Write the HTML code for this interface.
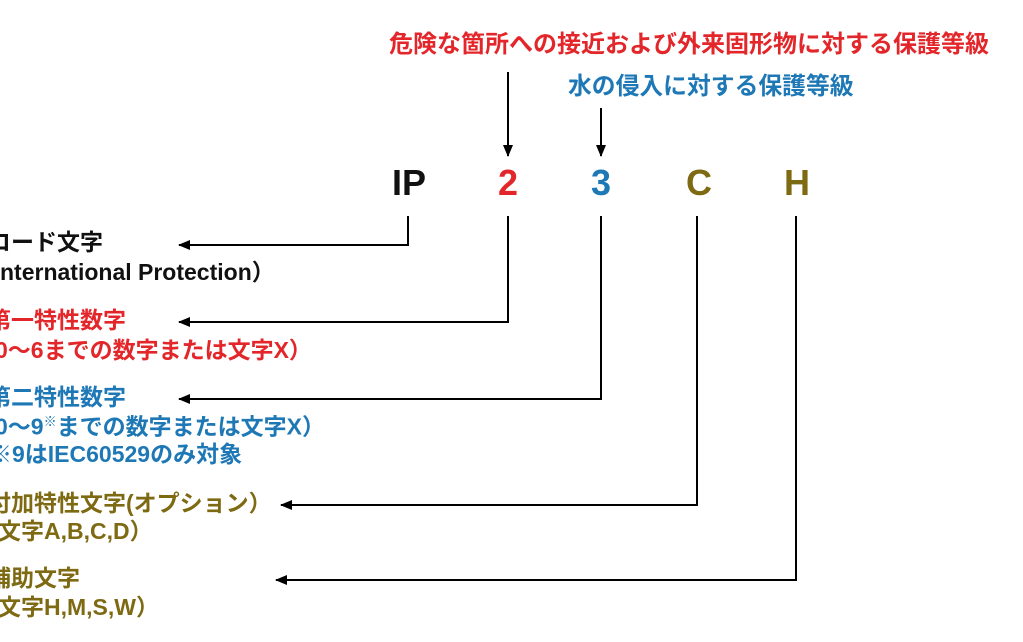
<!DOCTYPE html>
<html><head><meta charset="utf-8"><style>
html,body{margin:0;padding:0;background:#fff;}
body{width:1023px;height:642px;position:relative;overflow:hidden;font-family:"Liberation Sans","Noto Sans CJK JP",sans-serif;}
.t{position:absolute;white-space:nowrap;font-weight:bold;font-size:23px;line-height:1;}
.k{color:#111}.r{color:#e3262a}.b{color:#1e78b6}.o{color:#7e6a12}
.big{position:absolute;font-family:"Liberation Sans Narrow","Liberation Sans",sans-serif;font-size:36px;font-weight:bold;line-height:1;top:165px;}
svg{position:absolute;left:0;top:0}
</style></head><body>
<svg width="1023" height="642">
<defs><marker id="a" markerWidth="12" markerHeight="10" refX="11" refY="5" orient="auto" markerUnits="userSpaceOnUse"><path d="M0,0 L12,5 L0,10 z" fill="#000"/></marker></defs>
<g stroke="#000" stroke-width="2" fill="none">
<line x1="508" y1="72" x2="508" y2="156" marker-end="url(#a)"/>
<line x1="601" y1="108" x2="601" y2="156" marker-end="url(#a)"/>
<polyline points="408,216 408,245 179,245" marker-end="url(#a)"/>
<polyline points="508,216 508,322 179,322" marker-end="url(#a)"/>
<polyline points="601,216 601,399 179,399" marker-end="url(#a)"/>
<polyline points="697,216 697,505 281,505" marker-end="url(#a)"/>
<polyline points="796,216 796,580 276,580" marker-end="url(#a)"/>
</g></svg>
<div class="t r" style="left:389px;top:33px;font-size:24px">危険な箇所への接近および外来固形物に対する保護等級</div>
<div class="t b" style="left:568px;top:75px;font-size:23.8px">水の侵入に対する保護等級</div>
<div class="big k" style="left:392px">IP</div>
<div class="big r" style="left:498px">2</div>
<div class="big b" style="left:591px">3</div>
<div class="big o" style="left:686px">C</div>
<div class="big o" style="left:784px">H</div>
<div class="t k" style="left:-12px;top:231px">コード文字</div>
<div class="t k" style="left:0px;top:261px">nternational Protection）</div>
<div class="t r" style="left:-12px;top:309px">第一特性数字</div>
<div class="t r" style="left:-5px;top:339px">0～6までの数字または文字X）</div>
<div class="t b" style="left:-12px;top:386px">第二特性数字</div>
<div class="t b" style="left:-5px;top:415px">0～9<sup style="font-size:13px">※</sup>までの数字または文字X）</div>
<div class="t b" style="left:-11px;top:443px">※9はIEC60529のみ対象</div>
<div class="t o" style="left:-12px;top:492px">付加特性文字(オプション）</div>
<div class="t o" style="left:-2px;top:520px">文字A,B,C,D）</div>
<div class="t o" style="left:-12px;top:567px">補助文字</div>
<div class="t o" style="left:-2px;top:596px">文字H,M,S,W）</div>
</body></html>
